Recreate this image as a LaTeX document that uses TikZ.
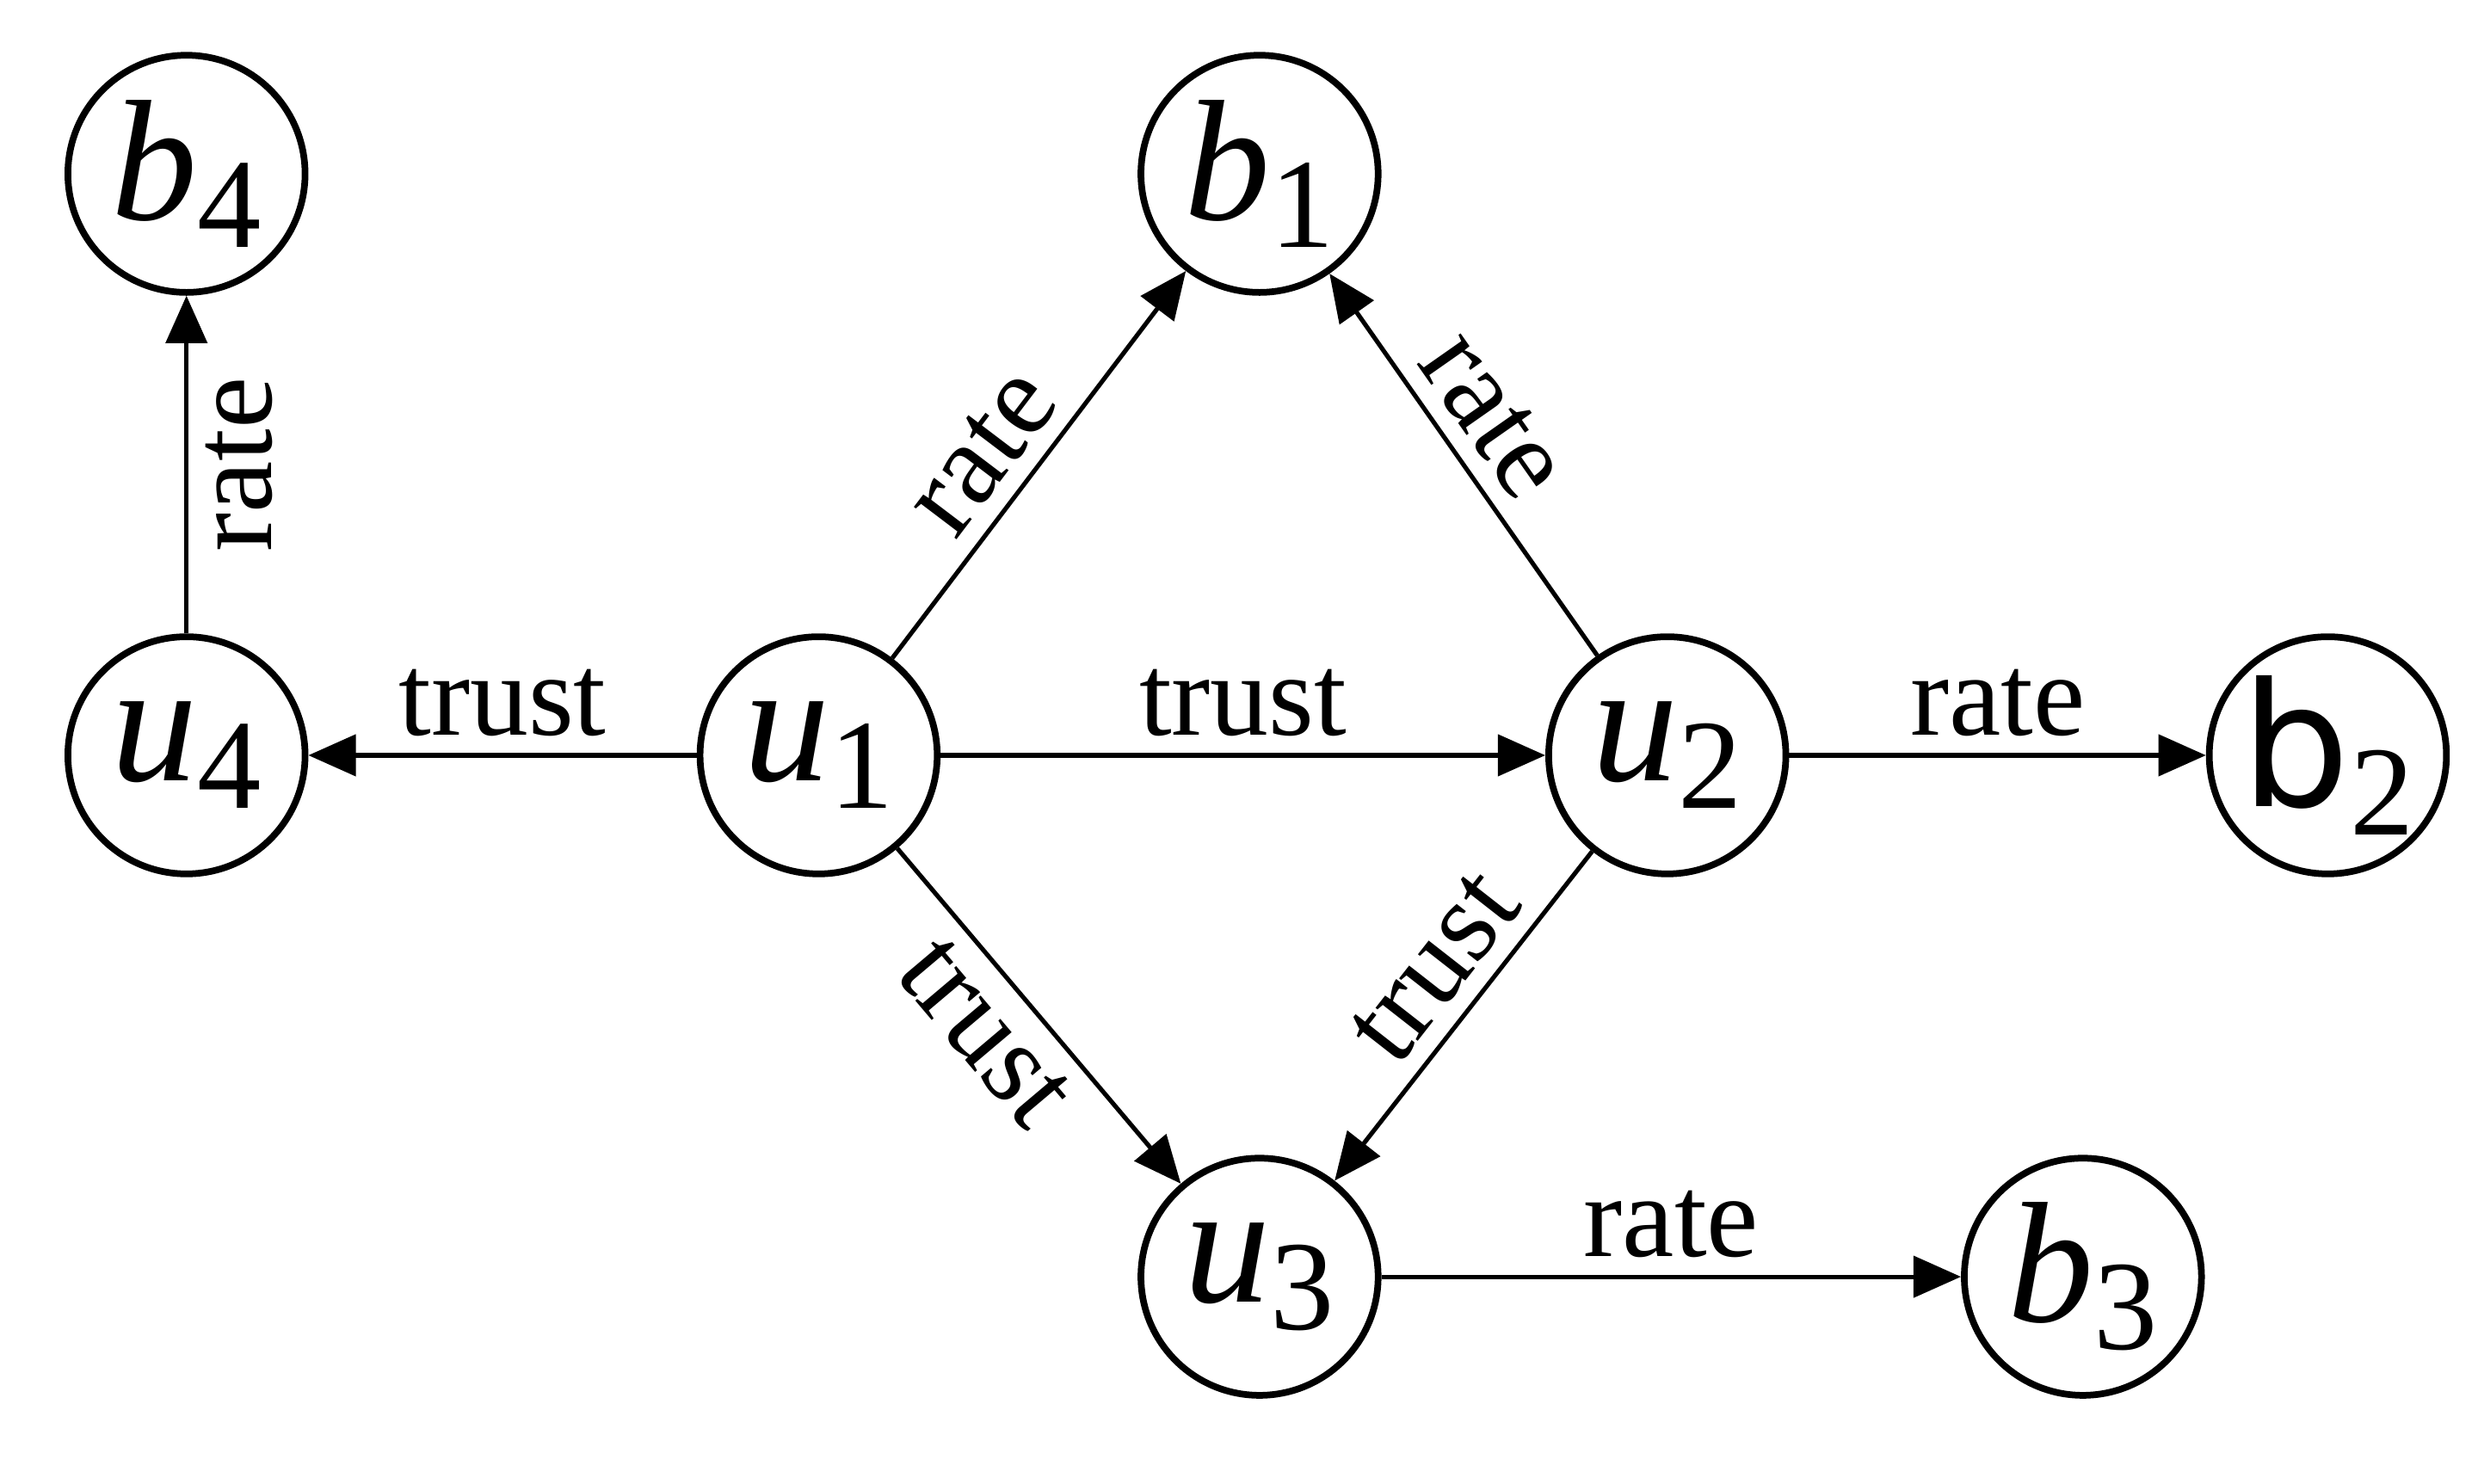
\documentclass[tikz,border=0pt]{standalone}
\usepackage{fontspec}
\setmainfont{Liberation Serif}
\newfontfamily\sansf{DejaVu Sans}
\usetikzlibrary{arrows.meta}
\newcommand{\sub}[1]{\raisebox{-0.35ex}{\fontsize{23}{23}\selectfont #1}}
\begin{document}
\begin{tikzpicture}[x=0.01cm,y=-0.01cm,
  nd/.style={circle,draw,line width=1.2pt,minimum size=1.5cm,inner sep=0pt,font=\fontsize{31}{31}\selectfont},
  ed/.style={-{Triangle[length=0.3cm,width=0.26cm]},line width=0.8pt},
  lb/.style={font=\fontsize{21}{21}\selectfont,inner sep=3pt}]
\useasboundingbox (0,0) rectangle (1568,939);
\node[nd] (b4) at (118,110) {\textit{b}\sub{4}};
\node[nd] (b1) at (797,110) {\textit{b}\sub{1}};
\node[nd] (u4) at (118,478) {\textit{u}\sub{4}};
\node[nd] (u1) at (518,478) {\textit{u}\sub{1}};
\node[nd] (u2) at (1055,478) {\textit{u}\sub{2}};
\node[nd] (b2) at (1473,478) {{\sansf b}\sub{2}};
\node[nd] (u3) at (797,808) {\textit{u}\sub{3}};
\node[nd] (b3) at (1318,808) {\textit{b}\sub{3}};
\draw[ed] (u4) -- node[lb,sloped,below] {rate} (b4);
\draw[ed] (u1) -- node[lb,above] {trust} (u4);
\draw[ed] (u1) -- node[lb,sloped,above,pos=0.45] {rate} (b1);
\draw[ed] (u2) -- node[lb,sloped,above,pos=0.55] {rate} (b1);
\draw[ed] (u1) -- node[lb,above] {trust} (u2);
\draw[ed] (u2) -- node[lb,above] {rate} (b2);
\draw[ed] (u1) -- node[lb,sloped,below,pos=0.45] {trust} (u3);
\draw[ed] (u2) -- node[lb,sloped,above,pos=0.45] {trust} (u3);
\draw[ed] (u3) -- node[lb,above] {rate} (b3);
\end{tikzpicture}
\end{document}
